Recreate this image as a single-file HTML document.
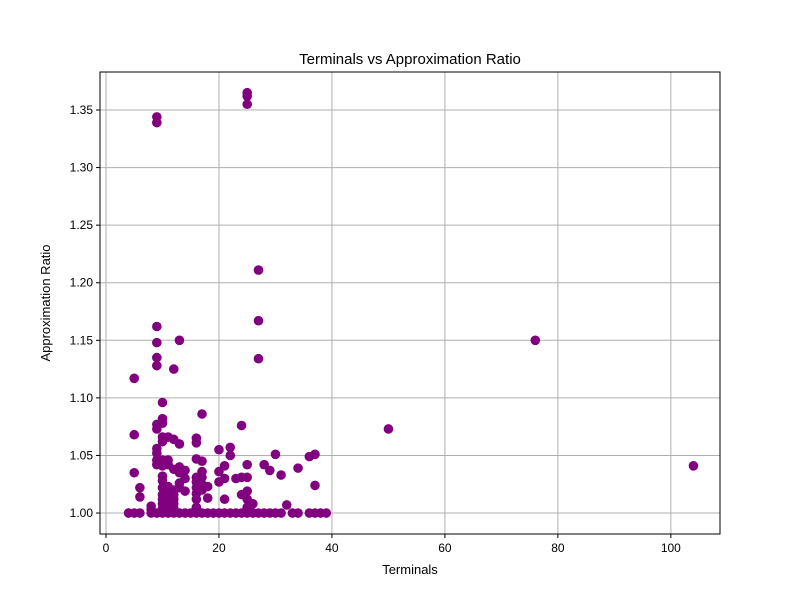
<!DOCTYPE html>
<html><head><meta charset="utf-8"><style>body{margin:0;background:#fff}svg{display:block}text{font-family:"Liberation Sans","DejaVu Sans",sans-serif;fill:#000}</style></head>
<body>
<svg id="chart" width="800" height="600">
<rect width="800" height="600" fill="#fff"/>
<g id="grid"></g><g id="pts"></g><g id="ticks"></g>
<rect x="100" y="72" width="620" height="462" fill="none" stroke="#000" stroke-width="1"/>
<text x="410" y="64" font-size="15" text-anchor="middle">Terminals vs Approximation Ratio</text>
<text x="410" y="574" font-size="13" text-anchor="middle">Terminals</text>
<text x="50" y="303" font-size="13" text-anchor="middle" transform="rotate(-90 50 303)">Approximation Ratio</text>
</svg>
<script>
const baseX=[4,5,6,8,9,10,11,12,13,14,15,16,17,18,19,20,21,22,23,24,25,26,27,28,29,30,31,33,34,36,37,38,39];
const groupX=[5,6,8,9,10,11,12,13,14,16,17,18,20,21,22,23,24,25,26,27,28,29,30,31,32,34,36,37,50,76,104];
const groupY=[
[1.117,1.068,1.035],[1.022,1.014],[1.006,1.003],
[1.344,1.339,1.162,1.148,1.135,1.128,1.077,1.073,1.056,1.052,1.046,1.042],
[1.096,1.082,1.078,1.066,1.062,1.046,1.041,1.032,1.028,1.022,1.016,1.012,1.008,1.004],
[1.066,1.046,1.042,1.023,1.018,1.012,1.008,1.004],
[1.125,1.064,1.038,1.020,1.016,1.012,1.008,1.004],
[1.150,1.060,1.040,1.035,1.026,1.022],
[1.037,1.030,1.019],
[1.065,1.061,1.047,1.031,1.027,1.022,1.017,1.012,1.005],
[1.086,1.045,1.036,1.031,1.025,1.020],
[1.023,1.013],[1.055,1.036,1.027],[1.041,1.030,1.012],[1.057,1.050],[1.030],
[1.076,1.031,1.016],[1.365,1.362,1.355,1.042,1.031,1.019,1.012,1.005],[1.008],
[1.211,1.167,1.134],[1.042],[1.037],[1.051],[1.033],[1.007],[1.039],[1.049],[1.051,1.024],
[1.073],[1.150],[1.041]];
const xTicks=[0,20,40,60,80,100];
const yTicks=[1.00,1.05,1.10,1.15,1.20,1.25,1.30,1.35];
const X0=100,X1=720,Y0=534,Y1=72,xmin=-1.06,xmax=108.7,ymin=0.9818,ymax=1.383;
const sx=v=>X0+(v-xmin)/(xmax-xmin)*(X1-X0);
const sy=v=>Y0-(v-ymin)/(ymax-ymin)*(Y0-Y1);
const NS='http://www.w3.org/2000/svg';
const grid=document.getElementById('grid'),ticks=document.getElementById('ticks'),pts=document.getElementById('pts');
function mk(t,a,p){const e=document.createElementNS(NS,t);for(const k in a)e.setAttribute(k,a[k]);p.appendChild(e);return e;}
xTicks.forEach(v=>{const x=sx(v);
const g=mk('line',{x1:x,x2:x,y1:Y1,y2:Y0,stroke:'#b0b0b0','stroke-width':1},grid);


mk('line',{x1:x,x2:x,y1:Y0,y2:Y0+4,stroke:'#000'},ticks);
const t=mk('text',{x:x,y:Y0+18,'font-size':12,'text-anchor':'middle'},ticks);t.textContent=v;

});
yTicks.forEach(v=>{const y=sy(v);
const g=mk('line',{x1:X0,x2:X1,y1:y,y2:y,stroke:'#b0b0b0','stroke-width':1},grid);


mk('line',{x1:X0-4,x2:X0,y1:y,y2:y,stroke:'#000'},ticks);
const t=mk('text',{x:X0-7,y:y+4,'font-size':12,'text-anchor':'end'},ticks);t.textContent=v.toFixed(2);

});
function dot(x,y){const c=mk('circle',{cx:sx(x),cy:sy(y),r:4.8,fill:'#800080'},pts);

}
baseX.forEach(x=>dot(x,1.0));
groupX.forEach((x,i)=>groupY[i].forEach(y=>dot(x,y)));
</script>
</body></html>
